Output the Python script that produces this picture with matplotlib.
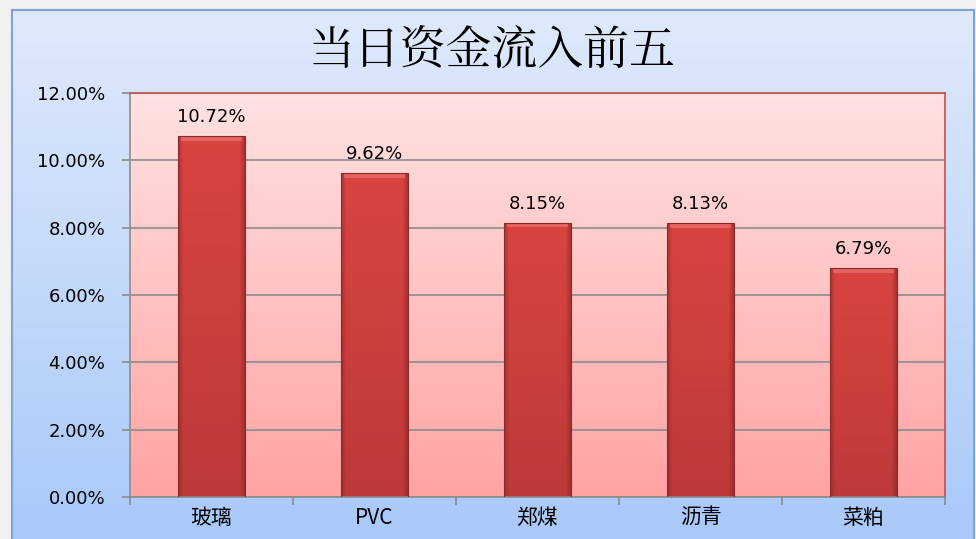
import numpy as np
import matplotlib.pyplot as plt
from matplotlib.colors import LinearSegmentedColormap

plt.rcParams['font.family'] = ['Noto Sans CJK SC', 'DejaVu Sans']

categories = ["玻璃", "PVC", "郑煤", "沥青", "菜粕"]
values = [10.72, 9.62, 8.15, 8.13, 6.79]
labels = ["10.72%", "9.62%", "8.15%", "8.13%", "6.79%"]
title = "当日资金流入前五"

fig = plt.figure(figsize=(9.76, 5.39), dpi=100)
fig.patch.set_facecolor("#f0f0f0")

# chart area background (blue vertical gradient)
bg = fig.add_axes([12 / 976, 0, 962 / 976, 529 / 539])
bg_cmap = LinearSegmentedColormap.from_list("bg", ["#a9c9f9", "#dfe9fb"])
bg.imshow(np.linspace(0, 1, 256).reshape(-1, 1), cmap=bg_cmap, aspect="auto",
          origin="lower", extent=[0, 1, 0, 1])
bg.set_xticks([])
bg.set_yticks([])
for s in bg.spines.values():
    s.set_color("#7fa3d3")
    s.set_linewidth(1.5)
bg.spines["bottom"].set_visible(False)

fig.text(0.504, 0.904, title, ha="center", va="center", fontsize=33, color="black",
         family=['Noto Serif CJK SC', 'Noto Sans CJK SC'])

ax = fig.add_axes([130 / 976, 42 / 539, 815 / 976, 404 / 539])
x = np.arange(len(categories))
ax.set_xlim(-0.5, len(categories) - 0.5)
ax.set_ylim(0, 12)

# plot area gradient (pink)
pa_cmap = LinearSegmentedColormap.from_list("pa", ["#ffa3a3", "#ffe2e2"])
ax.imshow(np.linspace(0, 1, 256).reshape(-1, 1), cmap=pa_cmap, aspect="auto",
          origin="lower", extent=[-0.5, len(categories) - 0.5, 0, 12], zorder=0)

ax.set_yticks(np.arange(0, 12.01, 2))
ax.set_yticklabels([f"{v:.2f}%" for v in np.arange(0, 12.01, 2)], fontsize=13,
                   family="DejaVu Sans")
ax.yaxis.grid(True, color="#8c8c8c", linewidth=1.2, zorder=1)
ax.set_axisbelow(True)

# bar shading: red, darker toward bottom and at the side edges
bar_cmap = LinearSegmentedColormap.from_list("bar", ["#6e1e1e", "#a83232", "#d94441"])
h = np.linspace(0, 1, 64)
edge = np.clip(np.minimum(h, 1 - h) / 0.08, 0, 1)
width = 0.41
bars = ax.bar(x, values, width=width, color="none", edgecolor="#8a2a28", linewidth=0.8, zorder=3)
for b, v in zip(bars, values):
    x0 = b.get_x()
    vert = np.linspace(0.72, 1.0, 128).reshape(-1, 1)
    shade = vert * (0.55 + 0.45 * edge.reshape(1, -1))
    im = ax.imshow(shade, cmap=bar_cmap, vmin=0, vmax=1, aspect="auto", origin="lower",
                   extent=[x0, x0 + width, 0, v], zorder=2)
    im.set_clip_path(b)
    ax.bar(x0 + width / 2, 0.13, width=width * 0.9, bottom=v - 0.14, color="#f08080",
           alpha=0.55, linewidth=0, zorder=2.5)

for xi, v, lab in zip(x, values, labels):
    ax.text(xi, v + 0.3, lab, ha="center", va="bottom", fontsize=13, color="black",
            family="DejaVu Sans")

ax.set_xticks(x)
ax.set_xticklabels(categories, fontsize=15)
ax.tick_params(axis="x", length=0, pad=7)
ax.set_xticks(np.arange(-0.5, len(categories)), minor=True)
ax.tick_params(axis="x", which="minor", length=6, color="#8c8c8c", width=1.2)
ax.tick_params(axis="y", length=6, color="#8c8c8c", width=1.2, pad=12)

ax.spines["left"].set_color("#8c8c8c")
ax.spines["bottom"].set_color("#8c8c8c")
ax.spines["top"].set_color("#c0504d")
ax.spines["right"].set_color("#c0504d")
for s in ax.spines.values():
    s.set_linewidth(1.2)

fig.savefig("out.png", dpi=100, facecolor=fig.get_facecolor())
